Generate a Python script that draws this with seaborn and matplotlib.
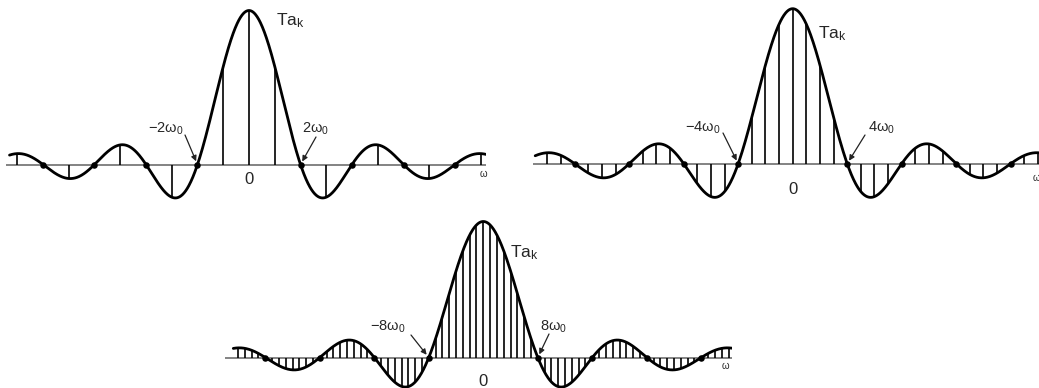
import numpy as np
import matplotlib
matplotlib.use("Agg")
import matplotlib.pyplot as plt
import pandas as pd
import seaborn as sns

W, H = 1039, 388

# T / T1 for the three square waves
period_ratio = [4, 8, 16]
# highest harmonic drawn as a stem on each side
k_limit = [9, 18, 36]
# how far (in multiples of omega_0) the envelope runs on each side
env_limit = [9.3, 18.9, 36.7]
# first zero of the envelope, in multiples of omega_0
first_zero = [2, 4, 8]
zero_left = ["−2ω$_0$", "−4ω$_0$", "−8ω$_0$"]
zero_right = ["2ω$_0$", "4ω$_0$", "8ω$_0$"]

# pixel layout: axes box (left, right, top, bottom), centre x, baseline y,
# peak height, pixels per pi of omega*T1
layout = [
    dict(box=(6, 486, 0, 215), cx=249, by=164.5, h=154, s=51.5),
    dict(box=(533, 1050, 0, 215), cx=792.7, by=163.7, h=155, s=54.5),
    dict(box=(225, 732, 212, 388), cx=483.3, by=357.5, h=136, s=54.5),
]
# text anchors in pixels
text_pos = [
    dict(ta=(276, 25), zl=(148, 133), zr=(302, 133), zero=(249, 180), w=(483, 174),
         al=(185, 135), ar=(316, 137)),
    dict(ta=(818, 38), zl=(685, 131.5), zr=(868, 131.5), zero=(792.7, 190), w=(1036, 178),
         al=(723, 133), ar=(865, 135)),
    dict(ta=(510, 257), zl=(370, 330.5), zr=(540, 330.5), zero=(483.3, 381.7), w=(725, 366),
         al=(411, 335), ar=(549, 334)),
]

sns.set_theme(style="white")
plt.rcParams["font.family"] = ["DejaVu Sans Condensed", "Liberation Sans Narrow",
                               "Liberation Sans", "DejaVu Sans"]
plt.rcParams["mathtext.default"] = "regular"

fig = plt.figure(figsize=(W / 100, H / 100), dpi=100)
fig.patch.set_facecolor("white")


def fx(x):
    return x / W


def fy(y):
    return 1 - y / H


for i, N in enumerate(period_ratio):
    lay = layout[i]
    L, R, T, B = lay["box"]
    cx, by, h, s = lay["cx"], lay["by"], lay["h"], lay["s"]
    ax = fig.add_axes([fx(L), fy(B), (R - L) / W, (B - T) / H])
    ax.set_xlim((L - cx) / s, (R - cx) / s)
    ax.set_ylim((by - B) / h, (by - T) / h)
    ax.axis("off")
    ax.patch.set_alpha(0)

    # x in units of omega*T1/pi, so harmonic k sits at 2k/N
    ax.axhline(0, color="#7a7a7a", lw=1.3, zorder=1)

    u = np.linspace(-2 * env_limit[i] / N, 2 * env_limit[i] / N, 1200)
    env = pd.DataFrame({"u": u, "v": np.sinc(u)})
    sns.lineplot(data=env, x="u", y="v", ax=ax, color="black", lw=2.0, zorder=3)

    k = np.arange(-k_limit[i], k_limit[i] + 1)
    uk = 2 * k / N
    ak = np.sinc(uk)
    ak[np.abs(ak) < 1e-9] = 0
    ax.vlines(uk, 0, ak, color="black", lw=1.2, zorder=2)

    zeros = uk[(ak == 0)]
    dots = pd.DataFrame({"u": zeros, "v": np.zeros_like(zeros)})
    sns.scatterplot(data=dots, x="u", y="v", ax=ax, color="black", s=22,
                    edgecolor="black", linewidth=0, zorder=4)
    ax.set_xlabel("")
    ax.set_ylabel("")

    tp = text_pos[i]
    fig.text(fx(tp["ta"][0]), fy(tp["ta"][1]), "Ta$_k$", fontsize=12.5,
             ha="left", va="baseline")
    fig.text(fx(tp["zl"][0]), fy(tp["zl"][1]), zero_left[i], fontsize=10.5,
             ha="left", va="baseline")
    fig.text(fx(tp["zr"][0]), fy(tp["zr"][1]), zero_right[i], fontsize=10.5,
             ha="left", va="baseline")
    fig.text(fx(tp["zero"][0]), fy(tp["zero"][1]), "0", fontsize=12,
             ha="center", va="center")
    fig.text(fx(tp["w"][0]), fy(tp["w"][1]), "ω", fontsize=7,
             ha="center", va="center")

    for key, side in (("al", -1), ("ar", 1)):
        sx, sy = tp[key]
        ax.annotate("", xy=(side * first_zero[i] * 2 / N, 0), xycoords="data",
                    xytext=(fx(sx), fy(sy)), textcoords="figure fraction",
                    arrowprops=dict(arrowstyle="-|>", color="#222222", lw=0.9,
                                    mutation_scale=8, shrinkA=0, shrinkB=2.5))

fig.savefig("out.png", dpi=100, facecolor="white")
